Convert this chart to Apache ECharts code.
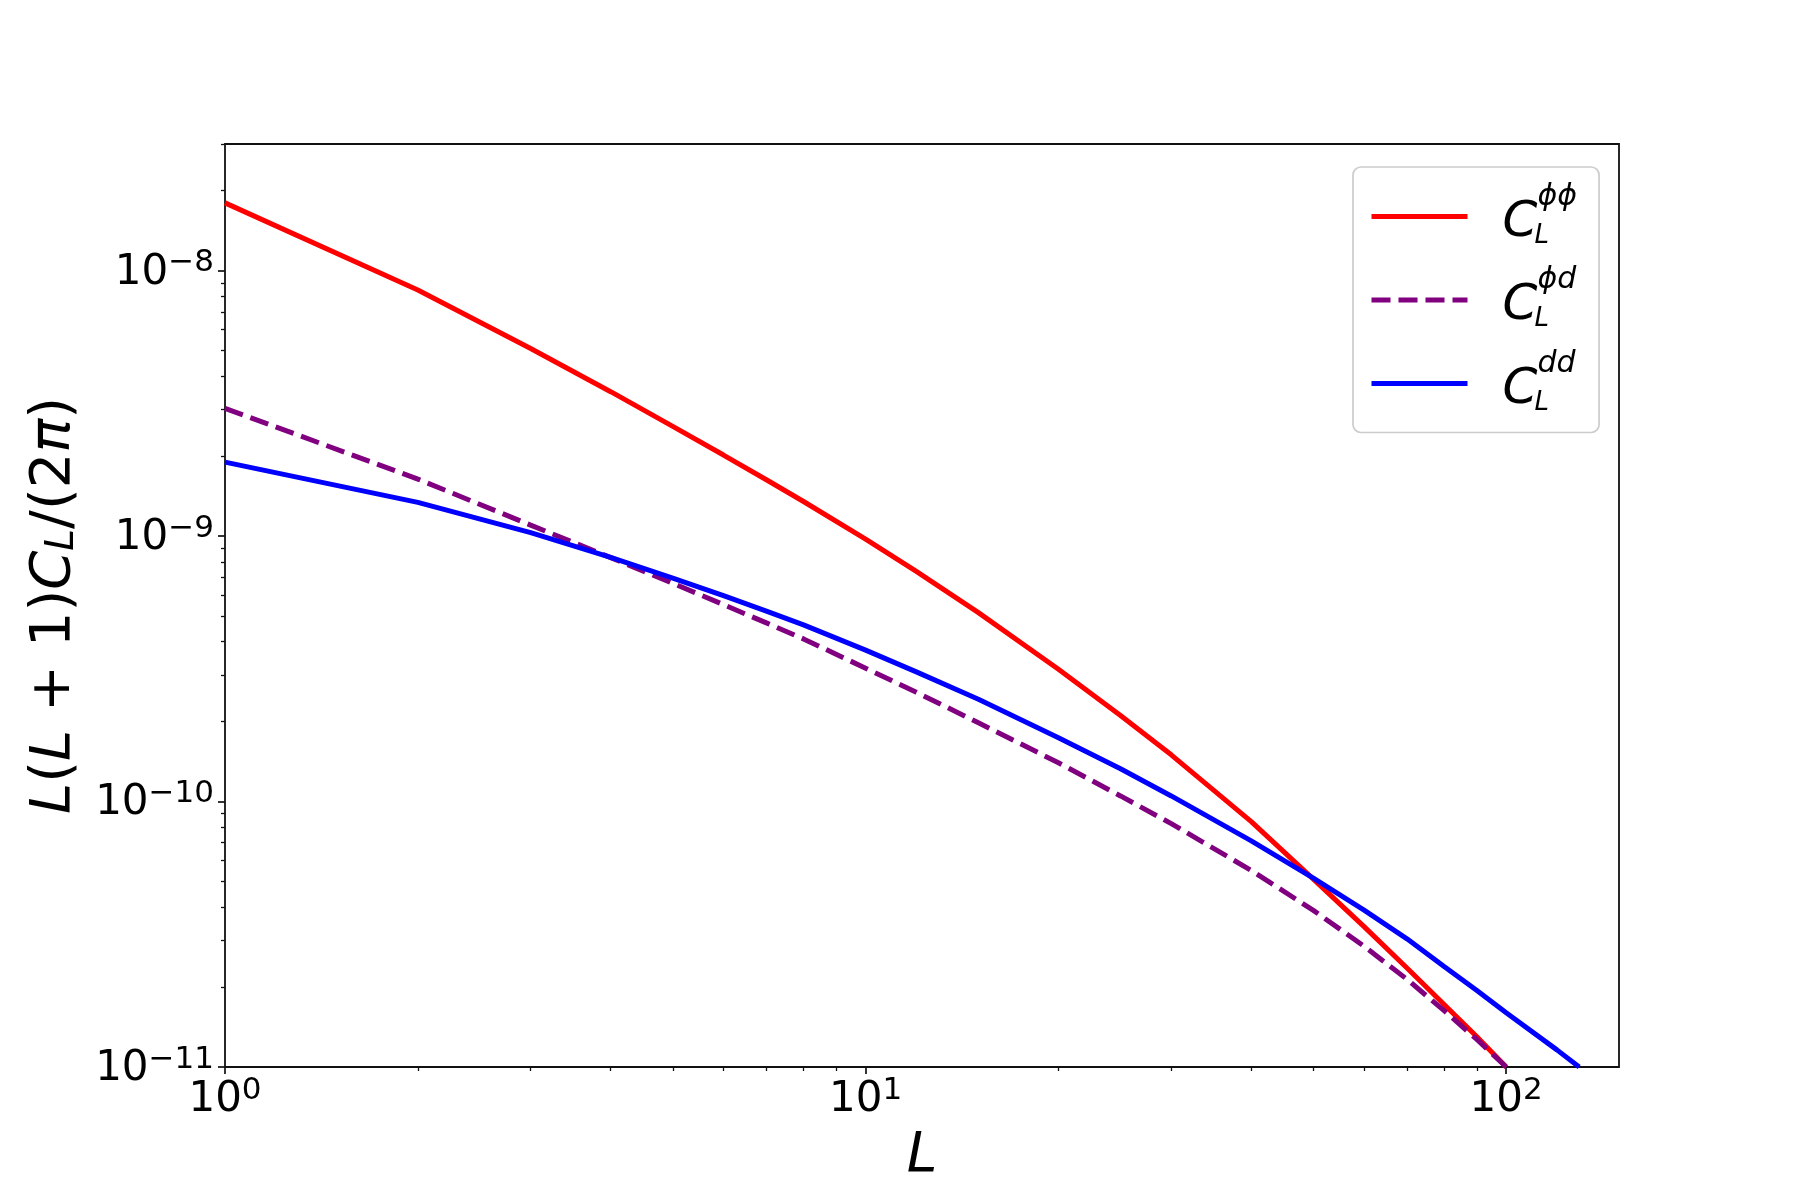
<!DOCTYPE html>
<html>
<head>
<meta charset="utf-8">
<script src="https://cdn.jsdelivr.net/npm/echarts@6/dist/echarts.min.js"></script>
<style>
  html, body { margin: 0; padding: 0; background: #fff; }
  #chart { width: 1800px; height: 1200px; }
</style>
</head>
<body>
<div id="chart"></div>
<script>
    // multipole L sampled along each curve
    var ells = [1, 2, 3, 4, 5, 6, 7, 8, 10, 12, 15, 20, 25, 30, 40, 50, 60, 70, 80, 90, 100, 120, 130];

    // L(L+1)C_L/(2pi)
    var clPhiPhi = [1.80e-8, 8.45e-9, 5.09e-9, 3.50e-9, 2.59e-9, 2.02e-9, 1.63e-9, 1.35e-9, 9.75e-10, 7.36e-10,
        5.15e-10, 3.15e-10, 2.11e-10, 1.50e-10, 8.4e-11, 5.1e-11, 3.38e-11, 2.36e-11, 1.72e-11, 1.30e-11, 1.0e-11];
    var clPhiD = [3.03e-9, 1.64e-9, 1.10e-9, 8.30e-10, 6.64e-10, 5.52e-10, 4.71e-10, 4.10e-10, 3.18e-10, 2.58e-10,
        1.98e-10, 1.40e-10, 1.05e-10, 8.26e-11, 5.50e-11, 3.89e-11, 2.85e-11, 2.14e-11, 1.63e-11, 1.27e-11, 1.0e-11];
    var clDD = [1.90e-9, 1.34e-9, 1.03e-9, 8.32e-10, 6.95e-10, 5.97e-10, 5.22e-10, 4.63e-10, 3.72e-10, 3.08e-10,
        2.43e-10, 1.74e-10, 1.33e-10, 1.05e-10, 7.11e-11, 5.15e-11, 3.90e-11, 3.04e-11, 2.39e-11, 1.94e-11,
        1.60e-11, 1.16e-11, 1.0e-11];

    // ticks
    var xMajorTicks = [1, 10, 100];
    var xMinorTicks = [2, 3, 4, 5, 6, 7, 8, 9, 20, 30, 40, 50, 60, 70, 80, 90];
    var yMajorTicks = [1e-11, 1e-10, 1e-9, 1e-8];
    var yMinorTicks = [2e-11, 3e-11, 4e-11, 5e-11, 6e-11, 7e-11, 8e-11, 9e-11,
        2e-10, 3e-10, 4e-10, 5e-10, 6e-10, 7e-10, 8e-10, 9e-10,
        2e-9, 3e-9, 4e-9, 5e-9, 6e-9, 7e-9, 8e-9, 9e-9, 2e-8, 3e-8];

    var FONT = 'DejaVu Sans';

    function pairs(vals) {
        return vals.map(function (v, i) { return [ells[i], v]; });
    }

    function powLabel(value) {
        var n = Math.round(Math.log10(value));
        return '{b|10}{s|' + (n < 0 ? '\u2212' + (-n) : n) + '}';
    }

    var powRich = {
        b: { fontFamily: FONT, fontSize: 42, lineHeight: 46, color: '#000', verticalAlign: 'bottom' },
        s: { fontFamily: FONT, fontSize: 31, lineHeight: 32, color: '#000', verticalAlign: 'top' }
    };

    var legendSup = { 'phiphi': '\u03d5\u03d5', 'phid': '\u03d5d', 'dd': 'dd' };

    var chart = echarts.init(document.getElementById('chart'));
    chart.setOption({
        animation: false,
        backgroundColor: '#fff',
        grid: {
            left: 225, right: 181, top: 144, bottom: 133,
            show: true, borderColor: '#111', borderWidth: 1.8,
            outerBoundsMode: 'none'
        },
        legend: {
            orient: 'vertical',
            left: 1353, top: 167,
            padding: [15, 22, 15, 16],
            itemGap: 15,
            itemWidth: 96,
            itemHeight: 14,
            backgroundColor: 'rgba(255,255,255,0.8)',
            borderColor: '#cccccc', borderWidth: 1.7, borderRadius: 8,
            itemStyle: { opacity: 0 },
            lineStyle: { width: 5 },
            formatter: function (name) {
                return '{p1| }{sup|' + legendSup[name] + '}\n{p2| }{c|C}\n{p3| }{sub|L}\n{e| }';
            },
            textStyle: {
                fontFamily: FONT, color: '#000',
                rich: {
                    p1: { width: 65, lineHeight: 32, fontSize: 10 },
                    p2: { width: 30, lineHeight: 20, fontSize: 10 },
                    p3: { width: 62, lineHeight: 6, fontSize: 6 },
                    e: { lineHeight: 13, fontSize: 10 },
                    sup: { fontFamily: FONT, fontStyle: 'italic', fontSize: 30, lineHeight: 32, color: '#000' },
                    c: { fontFamily: FONT, fontStyle: 'italic', fontSize: 50, lineHeight: 20, color: '#000' },
                    sub: { fontFamily: FONT, fontStyle: 'italic', fontSize: 26, lineHeight: 6, color: '#000' }
                }
            },
            data: ['phiphi', 'phid', 'dd']
        },
        xAxis: [{
            type: 'log', logBase: 10, min: 1, max: 150,
            name: 'L', nameLocation: 'middle', nameGap: 62, nameMoveOverlap: false,
            nameTextStyle: { fontFamily: FONT, fontStyle: 'italic', fontSize: 55, color: '#000' },
            axisLine: { show: false },
            splitLine: { show: false },
            axisTick: { show: true, customValues: xMajorTicks, length: 7, lineStyle: { color: '#111', width: 1.7 } },
            axisLabel: { customValues: xMajorTicks, margin: 8, formatter: powLabel, rich: powRich }
        }, {
            type: 'log', logBase: 10, min: 1, max: 150, position: 'bottom',
            axisLine: { show: false },
            splitLine: { show: false },
            axisTick: { show: true, customValues: xMinorTicks, length: 4, lineStyle: { color: '#111', width: 1.3 } },
            axisLabel: { show: false }
        }],
        yAxis: [{
            type: 'log', logBase: 10, min: 1e-11, max: 3e-8,
            name: '{i|L}{n|(}{i|L}{n| + 1)}{i|C}{sub|L}{n|/(2}{i|\u03c0}{n|)}',
            nameLocation: 'middle', nameGap: 143, nameRotate: 90, nameMoveOverlap: false,
            nameTextStyle: {
                fontFamily: FONT, fontSize: 56, color: '#000',
                rich: {
                    i: { fontFamily: FONT, fontStyle: 'italic', fontSize: 56, lineHeight: 56, color: '#000' },
                    n: { fontFamily: FONT, fontSize: 56, lineHeight: 56, color: '#000' },
                    sub: { fontFamily: FONT, fontStyle: 'italic', fontSize: 39, lineHeight: 30, verticalAlign: 'bottom', color: '#000' }
                }
            },
            axisLine: { show: false },
            splitLine: { show: false },
            axisTick: { show: true, customValues: yMajorTicks, length: 7, lineStyle: { color: '#111', width: 1.7 } },
            axisLabel: { customValues: yMajorTicks, margin: 11, formatter: powLabel, rich: powRich }
        }, {
            type: 'log', logBase: 10, min: 1e-11, max: 3e-8, position: 'left',
            axisLine: { show: false },
            splitLine: { show: false },
            axisTick: { show: true, customValues: yMinorTicks, length: 4, lineStyle: { color: '#111', width: 1.3 } },
            axisLabel: { show: false }
        }],
        series: [{
            name: 'phiphi', type: 'line', symbol: 'none', clip: true,
            data: pairs(clPhiPhi),
            lineStyle: { color: '#ff0000', width: 5 }, itemStyle: { color: '#ff0000' }
        }, {
            name: 'phid', type: 'line', symbol: 'none', clip: true,
            data: pairs(clPhiD),
            lineStyle: { color: '#800080', width: 5, type: [19, 8] }, itemStyle: { color: '#800080' }
        }, {
            name: 'dd', type: 'line', symbol: 'none', clip: true,
            data: pairs(clDD),
            lineStyle: { color: '#0000ff', width: 5 }, itemStyle: { color: '#0000ff' }
        }]
    });
</script>
</body>
</html>
